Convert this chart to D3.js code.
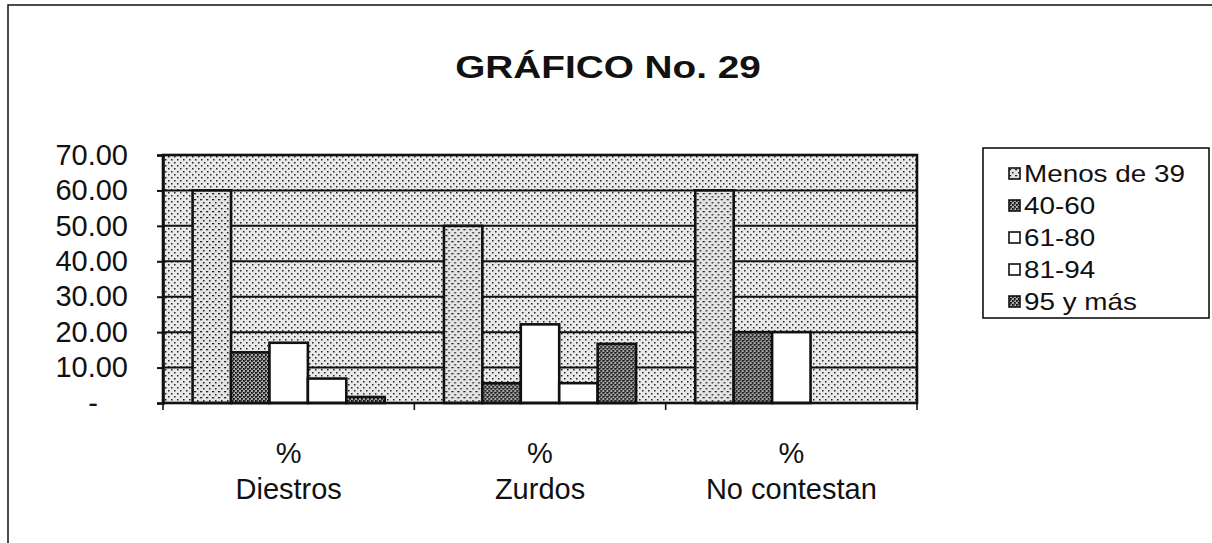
<!DOCTYPE html>
<html>
<head>
<meta charset="utf-8">
<script src="https://cdn.jsdelivr.net/npm/d3@7"></script>
<style>
  html, body { margin: 0; padding: 0; background: #fff; }
  svg { display: block; font-family: "Liberation Sans", Arial, sans-serif; }
</style>
</head>
<body>
<div id="chart"></div>
<script>
// Data
const categories = ["Diestros", "Zurdos", "No contestan"];
const series = ["Menos de 39", "40-60", "61-80", "81-94", "95 y más"];
const menosDe39 = [60.0, 50.0, 60.0];
const de40a60 = [14.3, 5.6, 20.0];
const de61a80 = [17.0, 22.2, 20.0];
const de81a94 = [6.9, 5.6, 0];
const de95yMas = [1.7, 16.7, 0];
const yTicks = [0, 10, 20, 30, 40, 50, 60, 70];

const seriesValues = [menosDe39, de40a60, de61a80, de81a94, de95yMas];
// pattern used by each series (matches the scan's hatching)
const seriesFill = ["url(#light)", "url(#dense)", "#fff", "#fff", "url(#dense)"];

const width = 1212;
const height = 543;
const plot = { left: 163, right: 917, top: 155, bottom: 403 };

const svg = d3.select("#chart")
    .append("svg")
    .attr("width", width)
    .attr("height", height);

// dotted fills that mimic the printed screen tones
const defs = svg.append("defs");

const bgPat = defs.append("pattern")
    .attr("id", "bgdots")
    .attr("width", 6).attr("height", 6)
    .attr("patternUnits", "userSpaceOnUse");
bgPat.append("rect").attr("width", 6).attr("height", 6).attr("fill", "#e9e9e9");
bgPat.append("rect").attr("x", 0).attr("y", 0).attr("width", 1.5).attr("height", 1.5).attr("fill", "#222");
bgPat.append("rect").attr("x", 3).attr("y", 3).attr("width", 1.5).attr("height", 1.5).attr("fill", "#222");

const lightPat = defs.append("pattern")
    .attr("id", "light")
    .attr("width", 6).attr("height", 6)
    .attr("patternUnits", "userSpaceOnUse");
lightPat.append("rect").attr("width", 6).attr("height", 6).attr("fill", "#e4e4e4");
lightPat.append("rect").attr("x", 1).attr("y", 1).attr("width", 2.2).attr("height", 1.3).attr("fill", "#222");
lightPat.append("rect").attr("x", 4).attr("y", 4).attr("width", 1.5).attr("height", 1.5).attr("fill", "#222");

const densePat = defs.append("pattern")
    .attr("id", "dense")
    .attr("width", 4).attr("height", 4)
    .attr("patternUnits", "userSpaceOnUse");
densePat.append("rect").attr("width", 4).attr("height", 4).attr("fill", "#a8a8a8");
densePat.append("rect").attr("x", 0).attr("y", 0).attr("width", 1.8).attr("height", 1.8).attr("fill", "#111");
densePat.append("rect").attr("x", 2).attr("y", 2).attr("width", 1.8).attr("height", 1.8).attr("fill", "#111");
densePat.append("rect").attr("x", 2).attr("y", 0).attr("width", 1).attr("height", 1).attr("fill", "#444");

// outer chart frame (right and bottom edges fall outside the picture)
svg.append("rect")
    .attr("x", 8).attr("y", 5)
    .attr("width", 1220).attr("height", 560)
    .attr("fill", "none")
    .attr("stroke", "#111")
    .attr("stroke-width", 1.5);

// stretched text helper, the scan is wider than plain Arial
const addText = (g, str, x, y, size, opts = {}) => {
    const { sx = 1, anchor = "middle", weight = "normal" } = opts;
    return g.append("text")
        .attr("transform", `translate(${x},${y}) scale(${sx},1)`)
        .attr("text-anchor", anchor)
        .attr("font-size", size)
        .attr("font-weight", weight)
        .attr("fill", "#111")
        .text(str);
};

addText(svg, "GRÁFICO No. 29", 608, 78, 31, { sx: 1.25, weight: "bold" });

const y = d3.scaleLinear()
    .domain([0, 70])
    .range([plot.bottom, plot.top]);

const x0 = d3.scaleBand()
    .domain(categories)
    .range([plot.left, plot.right])
    .padding(0);

const x1 = d3.scaleBand()
    .domain(series)
    .range([0, x0.bandwidth()])
    .paddingInner(0)
    .paddingOuter(0.77);

// plot background
svg.append("rect")
    .attr("x", plot.left).attr("y", plot.top)
    .attr("width", plot.right - plot.left)
    .attr("height", plot.bottom - plot.top)
    .attr("fill", "url(#bgdots)");

// gridlines
svg.append("g")
    .selectAll("line")
    .data(yTicks.filter((d) => d > 0 && d < 70))
    .join("line")
    .attr("x1", plot.left).attr("x2", plot.right)
    .attr("y1", (d) => y(d)).attr("y2", (d) => y(d))
    .attr("stroke", "#111")
    .attr("stroke-width", 2);

// bars
const groups = svg.append("g")
    .selectAll("g")
    .data(categories)
    .join("g")
    .attr("transform", (d) => `translate(${x0(d)},0)`);

groups.selectAll("rect")
    .data((c, ci) => series.map((s, si) => ({ s, si, v: seriesValues[si][ci] })))
    .join("rect")
    .filter((d) => d.v > 0)
    .attr("x", (d) => x1(d.s))
    .attr("y", (d) => y(d.v))
    .attr("width", x1.bandwidth())
    .attr("height", (d) => y(0) - y(d.v))
    .attr("fill", (d) => seriesFill[d.si])
    .attr("stroke", "#111")
    .attr("stroke-width", 2.6);

// plot frame
svg.append("rect")
    .attr("x", plot.left).attr("y", plot.top)
    .attr("width", plot.right - plot.left)
    .attr("height", plot.bottom - plot.top)
    .attr("fill", "none")
    .attr("stroke", "#111")
    .attr("stroke-width", 2.6);

// y axis
const yAxis = d3.axisLeft(y)
    .tickValues(yTicks)
    .tickSize(6)
    .tickPadding(29)
    .tickFormat((d) => (d === 0 ? "-" : d3.format(".2f")(d)));

svg.append("g")
    .attr("transform", `translate(${plot.left},0)`)
    .call(yAxis)
    .call((g) => g.select(".domain").attr("stroke", "#111").attr("stroke-width", 2.6))
    .call((g) => g.selectAll(".tick line").attr("stroke", "#111").attr("stroke-width", 2))
    .call((g) => g.selectAll(".tick text")
        .attr("font-size", 29)
        .attr("fill", "#111")
        .attr("font-family", "Liberation Sans, Arial, sans-serif")
        .attr("dx", (d) => (d === 0 ? -30 : 0)));

// x axis: ticks between groups, labels on two lines
const xTickPos = [plot.left, ...categories.map((c) => x0(c) + x0.bandwidth())];
svg.append("g")
    .selectAll("line")
    .data(xTickPos)
    .join("line")
    .attr("x1", (d) => d).attr("x2", (d) => d)
    .attr("y1", plot.bottom).attr("y2", plot.bottom + 7)
    .attr("stroke", "#111")
    .attr("stroke-width", 1.6);

const xLabels = svg.append("g");
categories.forEach((c) => {
    const cx = x0(c) + x0.bandwidth() / 2;
    addText(xLabels, "%", cx, 463, 29);
    addText(xLabels, c, cx, 499, 29);
});

// legend
const legend = svg.append("g");
legend.append("rect")
    .attr("x", 983).attr("y", 148)
    .attr("width", 226).attr("height", 170)
    .attr("fill", "#fff")
    .attr("stroke", "#111")
    .attr("stroke-width", 1.6);

series.forEach((s, i) => {
    const ly = 174 + i * 32;
    legend.append("rect")
        .attr("x", 1009).attr("y", ly - 6)
        .attr("width", 11).attr("height", 11)
        .attr("fill", seriesFill[i])
        .attr("stroke", "#111")
        .attr("stroke-width", 1.6);
    addText(legend, s, 1024, ly + 8, 24, { sx: 1.16, anchor: "start" });
});
</script>
</body>
</html>
